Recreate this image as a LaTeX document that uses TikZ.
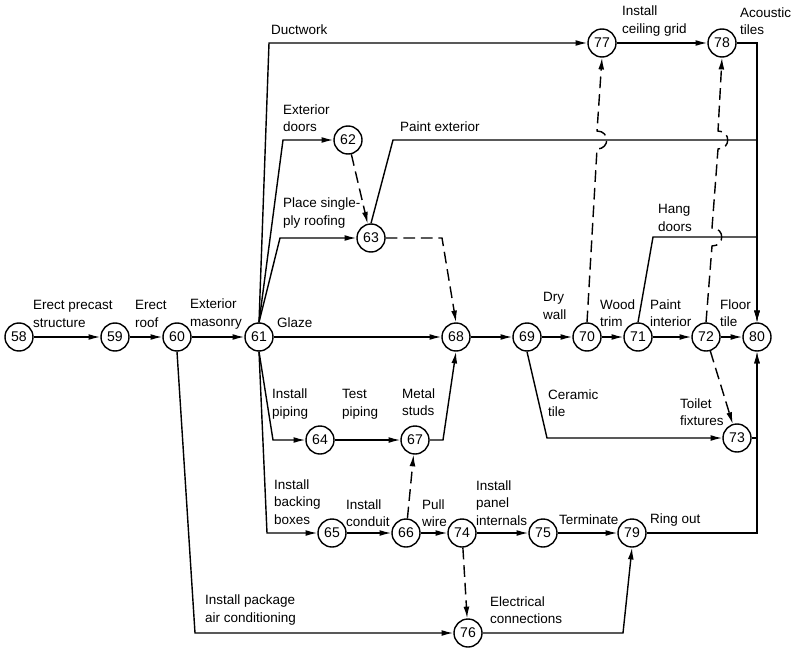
\documentclass[tikz,border=0pt]{standalone}
\usepackage{fontspec}
\setmainfont{Liberation Sans}
\usetikzlibrary{arrows.meta}

\begin{document}
\begin{tikzpicture}[x=0.03cm,y=-0.03cm,
    ev/.style={circle,draw,line width=1.2pt,minimum size=0.84cm,inner sep=0pt,font=\fontsize{12}{13}\selectfont},
    act/.style={line width=1.2pt,-{Latex[length=10pt,width=5pt]}},
    dum/.style={act,dash pattern=on 10pt off 5pt},
    lbl/.style={anchor=west,align=left,inner sep=0pt,font=\fontsize{11.5}{15}\selectfont}]
    \useasboundingbox (0,0) rectangle (794,647);
    % Events
    \foreach \n/\x/\y in {58/19/337, 59/115/337, 60/177/337, 61/259/337, 62/348/140,
        63/371/238, 64/320/440, 65/332/533, 66/406/533, 67/415/440, 68/456/337,
        69/527/337, 70/587/337, 71/638/337, 72/706/337, 73/737/438, 74/462/533,
        75/543/533, 76/468/633, 77/602/43, 78/722/43, 79/632/533, 80/757/337}
        \node[ev] (n\n) at (\x,\y) {\n};

    % Straight activities
    \foreach \a/\b in {58/59, 59/60, 60/61, 61/68, 68/69, 69/70, 70/71, 71/72, 72/80,
        64/67, 65/66, 66/74, 74/75, 75/79, 77/78}
        \draw[act] (n\a) -- (n\b);

    % Activities leaving 61
    \draw[act] (n61.north) -- (269,43) -- (n77);
    \draw[act] (n61.north) -- (283,140) -- (n62);
    \draw[act] (n61.north) -- (280,238) -- (n63);
    \draw[act] (n61.south) -- (273,440) -- (n64);
    \draw[act] (n61.south) -- (267,533) -- (n65);
    \draw[act] (n60.south) -- (195,633) -- (n76);
    \draw[act] (n67) -- (443,440) -- (n68.south);
    \draw[act] (n69.south) -- (547,438) -- (n73);
    \draw[act] (n76) -- (623,633) -- (n79.south);

    % Activities ending in 80
    \draw[act] (n63.north) -- (393,140) -- (757,140) -- (n80.north);
    \draw[act] (n71.north) -- (653,237) -- (757,237) -- (n80.north);
    \draw[act] (n78) -- (757,43) -- (n80.north);
    \draw[act] (n73) -- (757,438) -- (n80.south);
    \draw[act] (n79) -- (757,533) -- (n80.south);

    % Dummies
    \draw[dum] (n62) -- (n63);
    \draw[dum] (n63) -- (442,238) -- (n68.north);
    \draw[dum] (n66) -- (n67);
    \draw[dum] (n74) -- (n76);
    \draw[dum] (n72) -- (n73);
    \draw[dum] (n70.north) -- (597,149) .. controls (610,149) and (610,131) .. (597,131) -- (n77.south);
    \draw[dum] (n72.north) -- (712,246) .. controls (725,246) and (725,228) .. (712,228)
        -- (718,149) .. controls (731,149) and (731,131) .. (718,131) -- (n78.south);

    % Labels
    \node[lbl] (l58) at (33,314) {Erect precast\\structure};
    \node[lbl] (l59) at (135,314) {Erect\\roof};
    \node[lbl] (l60) at (190,314) {Exterior\\masonry};
    \node[lbl] (l77a) at (271,30) {Ductwork};
    \node[lbl] (l62) at (283,118) {Exterior\\doors};
    \node[lbl] (l80a) at (400,127) {Paint exterior};
    \node[lbl] (l63) at (283,213) {Place single-\\ply roofing};
    \node[lbl] (l68) at (277,323) {Glaze};
    \node[lbl] (l64) at (272,404) {Install\\piping};
    \node[lbl] (l67a) at (342,404) {Test\\piping};
    \node[lbl] (l67b) at (402,402) {Metal\\studs};
    \node[lbl] (l65) at (274,502) {Install\\backing\\boxes};
    \node[lbl] (l66) at (346,513) {Install\\conduit};
    \node[lbl] (l74) at (422,513) {Pull\\wire};
    \node[lbl] (l75) at (476,503) {Install\\panel\\internals};
    \node[lbl] (l79a) at (559,520) {Terminate};
    \node[lbl] (l80b) at (650,520) {Ring out};
    \node[lbl] (l76a) at (205,610) {Install package\\air conditioning};
    \node[lbl] (l76b) at (490,610) {Electrical\\connections};
    \node[lbl] (l70) at (543,306) {Dry\\wall};
    \node[lbl] (l71) at (600,313) {Wood\\trim};
    \node[lbl] (l72) at (650,313) {Paint\\interior};
    \node[lbl] (l80c) at (720,313) {Floor\\tile};
    \node[lbl] (l73a) at (548,403) {Ceramic\\tile};
    \node[lbl] (l73b) at (680,412) {Toilet\\fixtures};
    \node[lbl] (l80d) at (658,218) {Hang\\doors};
    \node[lbl] (l78) at (622,21) {Install\\ceiling grid};
    \node[lbl] (l80e) at (740,21) {Acoustic\\tiles};
\end{tikzpicture}
\end{document}
